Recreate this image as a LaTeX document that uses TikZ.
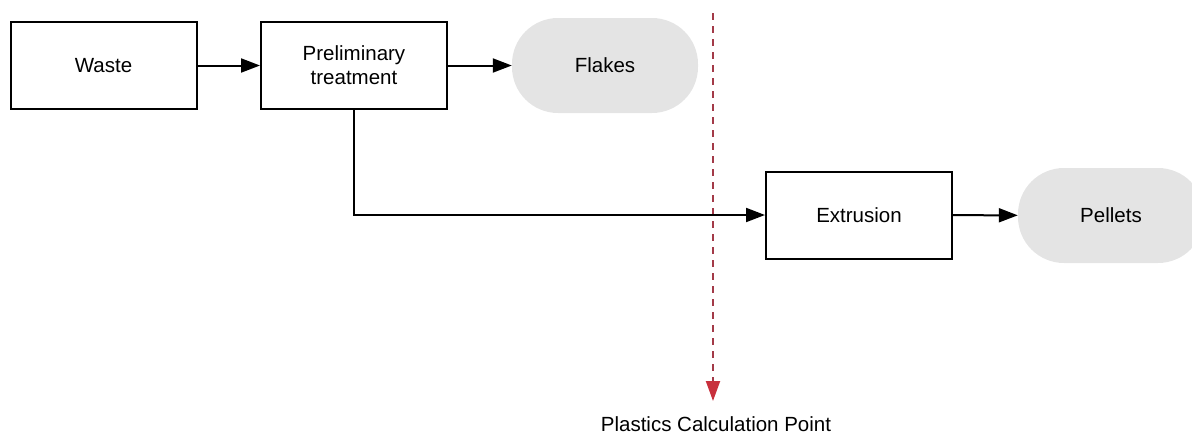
\documentclass[tikz,border=0pt]{standalone}
\usepackage{fontspec}
\setmainfont{Liberation Sans}
\usetikzlibrary{arrows.meta,positioning}
\definecolor{pillgray}{HTML}{E4E4E4}
\definecolor{markred}{HTML}{A33A48}
\definecolor{tipred}{HTML}{C8303C}
\tikzset{
  x=1pt, y=-1pt,
  label font/.style={font=\fontsize{20.5}{24}\selectfont},
  stepbox/.style={draw, line width=2pt, minimum width=186pt, minimum height=87pt,
    align=center, label font, inner sep=0pt},
  pill/.style={fill=pillgray, rounded corners=46pt, minimum width=186pt, minimum height=95pt,
    align=center, label font, inner sep=0pt},
  flow/.style={line width=2pt, -{Triangle[length=19pt,width=14pt]}},
  marker/.style={draw=markred, line width=2pt, dash pattern=on 7pt off 6pt,
    -{Triangle[length=20pt,width=14pt,color=tipred,fill=tipred]}},
}
\begin{document}
\begin{tikzpicture}
  \useasboundingbox (0,0) rectangle (1192,434);
  \clip (0,0) rectangle (1192,434);
  % process steps
  \node[stepbox] (waste) at (103.5,65.5) {Waste};
  \node[stepbox] (prelim) at (354,65.5) {Preliminary\\treatment};
  \node[stepbox] (extr) at (859,215) {Extrusion};
  % products
  \node[pill] (flakes) at (605,65.5) {Flakes};
  \node[pill] (pellets) at (1111,215.5) {Pellets};
  % calculation marker
  \coordinate (mtop) at (713,13);
  \coordinate (mbot) at (713,401);
  \node[label font] (calc) at (716,424) {Plastics Calculation Point};
  \draw[marker] (mtop) -- (mbot);
  % flows
  \draw[flow] (waste) -- (prelim);
  \draw[flow] (prelim) -- (flakes);
  \draw[flow] (prelim.south) |- (extr.west);
  \draw[flow] (extr) -- (pellets);
\end{tikzpicture}
\end{document}
